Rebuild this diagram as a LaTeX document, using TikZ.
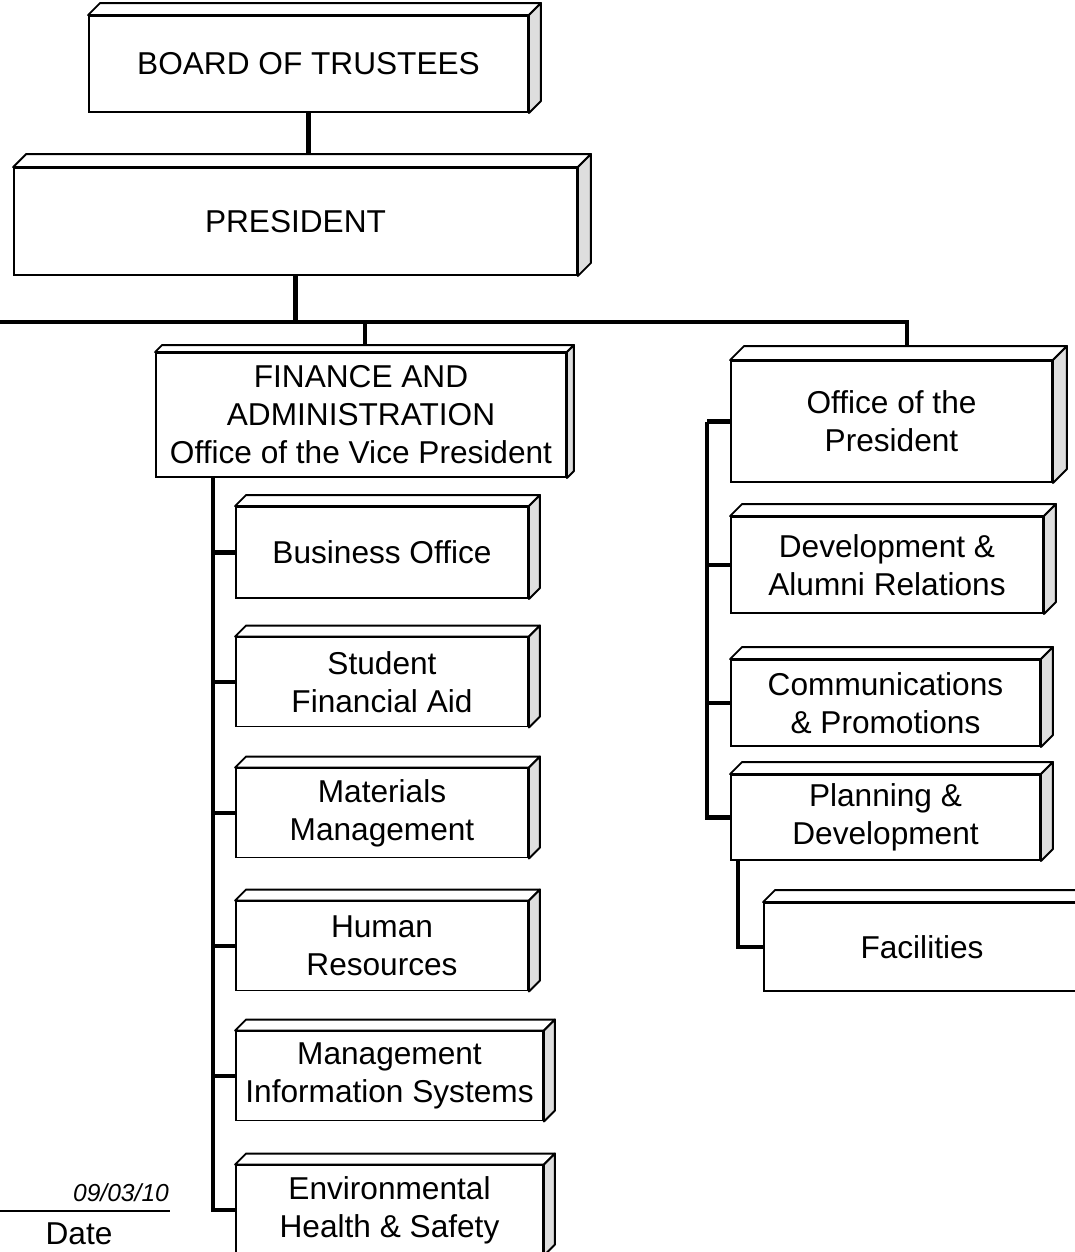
\documentclass[tikz,border=0pt]{standalone}
\usepackage{fontspec}
\setmainfont{Liberation Sans}
\usetikzlibrary{backgrounds}
\definecolor{ChartBlack}{RGB}{0, 0, 0}
\definecolor{ChartSide}{RGB}{222, 222, 222}

\begin{document}
\begin{tikzpicture}[
    % 1 unit = 1 pixel of the scanned chart
    x=0.02cm, y=-0.02cm,
    % --- STYLES ---
    % Base: black border, white front face, large sans text
    base/.style={
        draw=ChartBlack,
        line width=1.1pt,
        fill=white,
        align=center,
        inner sep=2pt,
        font=\fontsize{18}{21.6}\selectfont
    },
    % Left column units under Finance
    unit/.style={
        base,
        rectangle,
        minimum width=5.84cm,
        minimum height=1.78cm
    },
    wideunit/.style={
        unit,
        minimum width=6.14cm
    },
    % Right column units under the President
    runit/.style={
        base,
        rectangle,
        minimum width=6.18cm,
        minimum height=1.72cm
    },
    % Connectors: heavy black bars
    link/.style={
        line width=2.7pt,
        color=ChartBlack
    },
    % 3D faces of the boxes
    face/.style={
        draw=ChartBlack,
        line width=1.1pt,
        line join=round,
        fill=white
    },
    side/.style={
        face,
        fill=ChartSide
    }
]
\useasboundingbox (0,0) rectangle (1075,1252);

% --- 1. TOP OF THE CHART ---
\node (board) [base, minimum width=8.78cm, minimum height=1.92cm] at (308.5,64) {BOARD OF TRUSTEES};
\node (pres) [base, minimum width=11.26cm, minimum height=2.14cm] at (295.5,221.5) {PRESIDENT};

% --- 2. FINANCE AND ADMINISTRATION ---
\node (fin) [base, minimum width=8.2cm, minimum height=2.48cm] at (361,415) {FINANCE AND\\ADMINISTRATION\\Office of the Vice President};
\node (biz) [unit, minimum height=1.82cm] at (382,552.5) {Business Office};
\node (aid) [unit] at (382,682) {Student\\Financial Aid};
\node (mat) [unit] at (382,813) {Materials\\Management};
\node (hum) [unit] at (382,946) {Human\\Resources};
\node (mis) [wideunit] at (389.5,1076) {Management\\Information Systems};
\node (env) [wideunit] at (389.5,1210) {Environmental\\Health \& Safety};

% --- 3. PRESIDENT'S UNITS ---
\node (opres) [runit, minimum width=6.42cm, minimum height=2.42cm] at (891.5,421.5) {Office of the\\President};
\node (dev) [runit, minimum width=6.24cm, minimum height=1.92cm] at (887,565) {Development \&\\Alumni Relations};
\node (comm) [runit] at (885.5,703) {Communications\\\& Promotions};
\node (plan) [runit, minimum height=1.7cm] at (885.5,817.5) {Planning \&\\Development};
\node (fac) [runit, minimum width=6.32cm, minimum height=1.76cm] at (922,947) {Facilities};

% --- DATE LINE ---
\node (datesig) [font=\fontsize{14}{16}\selectfont\itshape] at (121,1193) {09/03/10};
\node (datelbl) [font=\fontsize{18}{21.6}\selectfont] at (79,1234) {Date};
\draw [line width=1pt] (-5,1211) -- (170,1211);

% --- 3D FACES ---
\foreach \n/\d in {board/12, pres/13, fin/7, biz/11, aid/11, mat/11, hum/11, mis/11, env/11,
                   opres/14, dev/12, comm/12, plan/12, fac/12} {
    \draw [face] (\n.north west) -- ++(\d,-\d) -- ([shift={(\d,-\d)}]\n.north east) -- (\n.north east) -- cycle;
    \draw [side] (\n.north east) -- ++(\d,-\d) -- ([shift={(\d,-\d)}]\n.south east) -- (\n.south east) -- cycle;
}

% --- CONNECTIONS ---
\begin{scope}[on background layer]
    \coordinate (busL) at (-20,322);
    \coordinate (busR) at (907,322);
    \coordinate (finSpine) at (213,470);
    \coordinate (rSpine) at (707,421.5);

    % Board to President
    \draw [link] (board.south) -- (board.south |- pres.north);

    % President to the bus, bus to the two branches
    \draw [link] (pres.south) -- (pres.south |- busL);
    \draw [link] (busL) -- (busR) -- (busR |- opres.north);
    \draw [link] (fin.north |- busL) ++(4,0) -- ++(0,40);

    % Finance units
    \foreach \n in {biz, aid, mat, hum, mis, env}
        \draw [link] (finSpine) |- (\n.west);

    % President's units
    \draw [link] (opres.west) -- (rSpine);
    \foreach \n in {dev, comm, plan}
        \draw [link] (rSpine) |- (\n.west);
    \draw [link] ([xshift=0.16cm]plan.south west) |- (fac.west);
\end{scope}

\end{tikzpicture}
\end{document}
